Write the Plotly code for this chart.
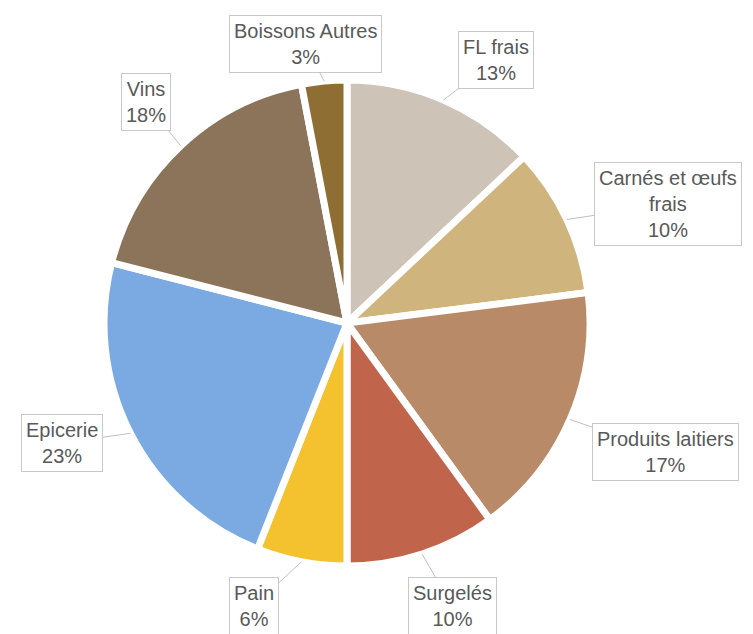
import math
import plotly.graph_objects as go

# Share of each product family (percent), clockwise from 12 o'clock
categories = ["FL frais", "Carnés et œufs<br>frais", "Produits laitiers", "Surgelés",
              "Pain", "Epicerie", "Vins", "Boissons Autres"]
shares = [13, 10, 17, 10, 6, 23, 18, 3]
colors = ["#CDC3B7", "#CFB47E", "#B88A68", "#C0654B",
          "#F4C22F", "#7BAAE2", "#8C745B", "#8F6E33"]

# Figure geometry (pixels)
W, H = 753, 634
CX, CY, R = 347, 323, 243

# Callout box centres (pixels) for each label, in the same order as categories
label_centres = [(496, 60), (668, 204), (665, 452), (452, 606),
                 (254, 606), (62, 443), (146, 102), (305, 44)]

fig = go.Figure(go.Pie(
    labels=categories,
    values=shares,
    sort=False,
    direction="clockwise",
    rotation=0,
    marker=dict(colors=colors, line=dict(color="white", width=7)),
    textinfo="none",
    hoverinfo="label+percent",
    showlegend=False,
    domain=dict(x=[(CX - R) / W, (CX + R) / W], y=[1 - (CY + R) / H, 1 - (CY - R) / H]),
))

total = sum(shares)
cum = 0
annotations = []
for name, v, (bx, by) in zip(categories, shares, label_centres):
    mid = (cum + v / 2) / total * 2 * math.pi
    cum += v
    tx = CX + R * math.sin(mid)
    ty = CY - R * math.cos(mid)
    annotations.append(dict(
        x=tx / W, y=1 - ty / H, xref="paper", yref="paper",
        ax=bx - tx, ay=by - ty, axref="pixel", ayref="pixel",
        text=f"{name}<br>{round(v / total * 100)}%",
        showarrow=True, arrowhead=0, arrowwidth=1, arrowcolor="#BFBFBF",
        standoff=0, startstandoff=0,
        bordercolor="#C8C8C8", borderwidth=1, borderpad=4, bgcolor="white",
        font=dict(family="Liberation Sans, Arial, sans-serif", size=20, color="#595959"),
        align="center",
    ))

fig.update_layout(
    width=W, height=H,
    margin=dict(l=0, r=0, t=0, b=0),
    paper_bgcolor="white", plot_bgcolor="white",
    annotations=annotations,
)

fig.write_html("out.html")
